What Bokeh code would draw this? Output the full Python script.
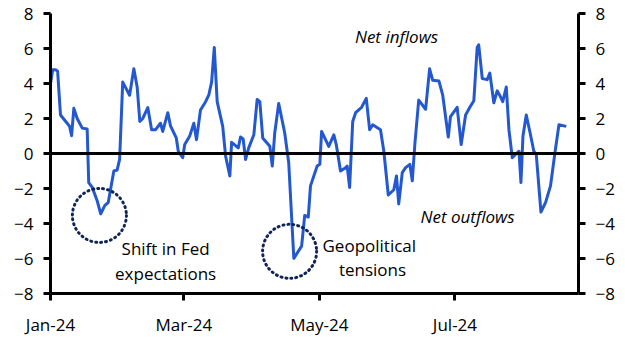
from bokeh.plotting import figure
from bokeh.models import ColumnDataSource, FixedTicker, LinearAxis, Range1d, Span, Label
from bokeh.embed import file_html
from bokeh.resources import INLINE

# days since 1 Jan 2024, value (net flows)
days = [0.0, 1.0, 2.3, 3.2, 4.5, 7.5, 8.6, 9.5, 10.5, 12.0, 14.3, 16.5, 17.2, 18.8, 21.0, 22.6, 24.4, 26.0,
        28.5, 30.0, 31.1, 32.5, 35.6, 37.5, 39.0, 40.2, 41.5, 43.8, 45.5, 47.3, 49.5, 50.5, 52.8, 54.0,
        56.6, 57.5, 59.5, 60.4, 62.6, 64.5, 65.7, 67.5, 69.8, 71.2, 72.5, 73.7, 75.0, 77.5, 78.8, 80.7,
        81.5, 84.5, 85.5, 86.7, 87.8, 89.2, 91.5, 93.0, 94.2, 95.5, 98.7, 99.8, 100.9, 102.7, 105.4, 107.2,
        109.5, 113.0, 114.4, 116.0, 117.0, 120.0, 121.2, 122.0, 125.2, 127.5, 128.6, 130.5, 132.8, 133.5,
        134.6, 136.0, 137.3, 140.0, 142.1, 143.6, 145.0, 148.5, 150.0, 152.0, 154.5, 155.7, 156.7, 158.3,
        159.8, 161.7, 162.8, 164.0, 165.7, 168.8, 170.6, 172.0, 174.8, 176.5, 179.0, 180.0, 183.0, 184.8,
        186.8, 188.7, 190.5, 192.0, 192.7, 194.3, 196.5, 197.7, 199.5, 201.0, 202.5, 203.5, 205.1, 206.3,
        207.8, 210.0, 210.8, 211.7, 212.6, 214.1, 216.0, 217.5, 218.6, 220.7, 222.8, 225.0, 227.0, 228.8,
        232.1]
flows = [4.0, 4.78, 4.78, 4.7, 2.2, 1.73, 1.55, 1.02, 2.58, 2.0, 1.45, 1.4, -1.66, -1.94, -2.7, -3.45, -2.98, -2.79,
         -1.0, -0.94, -0.34, 4.08, 3.33, 4.84, 3.8, 1.83, 2.0, 2.62, 1.36, 1.36, 1.73, 1.26, 2.33, 1.58,
         0.89, 0.13, -0.24, 0.51, 0.98, 1.73, 0.79, 2.49, 2.96, 3.33, 4.08, 6.06, 2.96, 1.55, -0.15, -1.28,
         0.64, 0.32, 0.94, 0.83, -0.34, 0.32, 1.07, 3.09, 2.96, 0.89, 0.41, -0.72, 1.17, 2.86, 1.17, -0.53,
         -5.99, -5.29, -3.54, -3.63, -1.85, -0.72, -0.62, 1.26, 0.41, 1.07, 0.51, -1.0, -0.81, -0.72,
         -1.94, 1.83, 2.33, 2.64, 3.15, 1.36, 1.64, 1.36, 0.13, -2.37, -2.07, -1.28, -2.88, -1.09,
         -0.81, -0.62, -1.56, 0.6, 3.05, 2.53, 4.84, 4.18, 4.14, 3.33, 0.94, 2.11, 2.64, 0.51,
         2.2, 2.64, 3.01, 6.06, 6.21, 4.28, 4.22, 4.59, 2.9, 3.58, 3.24, 2.96, 3.8, 1.36,
         -0.24, 0.04, 0.13, -1.66, 0.98, 2.2, 1.07, 0.13, -0.06, -3.35, -2.79, -1.85, 0.04, 1.64,
         1.55]

x_tick_days = [0, 60, 121, 182]
x_tick_labels = ["Jan-24", "Mar-24", "May-24", "Jul-24"]
y_ticks = [-8, -6, -4, -2, 0, 2, 4, 6, 8]

# annotation circles (day, value)
circle_days = [22.0, 107.6]
circle_vals = [-3.54, -5.59]

FONT = "Open Sans"
FS = "17px"

p = figure(width=625, height=338, output_backend="svg", toolbar_location=None,
           x_range=Range1d(0, 237.6), y_range=Range1d(-8, 8),
           min_border_left=50, min_border_right=47, min_border_top=13, min_border_bottom=42,
           y_axis_location=None)
p.outline_line_color = None
p.grid.visible = False
p.background_fill_color = "white"
p.border_fill_color = "white"

src = ColumnDataSource(dict(x=days, y=flows))
p.line("x", "y", source=src, line_color="#2358d1", line_width=3, line_join="round")

zero = Span(location=0, dimension="width", line_color="black", line_width=3)
p.add_layout(zero)

p.scatter(circle_days, circle_vals, marker="circle", size=54, fill_color=None,
          line_color="#0f2557", line_width=3, line_dash="1 4", line_cap="round")

def style_axis(ax):
    ax.axis_line_color = "black"
    ax.axis_line_width = 3
    ax.major_tick_line_color = "black"
    ax.major_tick_line_width = 3
    ax.major_tick_out = 7
    ax.major_tick_in = 0
    ax.minor_tick_line_color = None
    ax.major_label_text_font = FONT
    ax.major_label_text_font_size = FS
    ax.major_label_text_color = "black"

left = LinearAxis(ticker=FixedTicker(ticks=y_ticks))
right = LinearAxis(ticker=FixedTicker(ticks=y_ticks))
for ax in (left, right):
    style_axis(ax)
    ax.major_label_standoff = 10
p.add_layout(left, "left")
p.add_layout(right, "right")

xa = p.xaxis[0]
style_axis(xa)
xa.ticker = FixedTicker(ticks=x_tick_days)
xa.major_label_overrides = {d: l for d, l in zip(x_tick_days, x_tick_labels)}
xa.major_label_standoff = 12

def lab(x, y, t, italic=False, align="left"):
    p.add_layout(Label(x=x, y=y, text=t, text_font=FONT, text_font_size=FS,
                       text_font_style="italic" if italic else "normal",
                       text_color="black", text_align=align, text_baseline="middle"))

lab(137, 6.7, "Net inflows", italic=True)
lab(166.5, -3.6, "Net outflows", italic=True)
lab(51.8, -5.45, "Shift in Fed", align="center")
lab(51.8, -6.85, "expectations", align="center")
lab(122.4, -5.25, "Geopolitical")
lab(144.9, -6.6, "tensions", align="center")

open("out.html", "w").write(file_html(p, INLINE))
